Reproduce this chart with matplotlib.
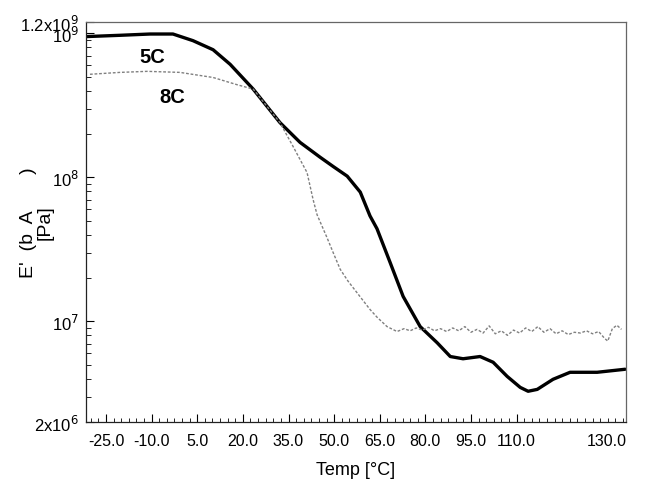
import matplotlib
matplotlib.use("Agg")
import matplotlib.pyplot as plt
from matplotlib.ticker import FixedLocator, MultipleLocator, LogLocator, NullFormatter

plt.rcParams['font.family'] = ['Liberation Sans', 'DejaVu Sans']

# ---- data ----
temp_5c = [-31.6, -20.4, -10.5, -3.0, 3.6, 10.2, 15.8, 23.4, 32.2, 38.8, 45.4, 49.7,
           54.3, 58.6, 61.8, 64.1, 68.4, 72.7, 78.3, 83.9, 88.2, 92.4, 98.0, 102.3,
           106.9, 111.2, 113.8, 116.8, 122.0, 127.6, 136.5, 145.7]
e_5c = [9.5e8, 9.7e8, 9.9e8, 9.9e8, 8.9e8, 7.7e8, 6.1e8, 4.1e8, 2.4e8, 1.75e8, 1.38e8, 1.19e8,
        1.02e8, 7.9e7, 5.4e7, 4.4e7, 2.57e7, 1.49e7, 9.2e6, 7.1e6, 5.7e6, 5.5e6, 5.7e6, 5.2e6,
        4.15e6, 3.48e6, 3.27e6, 3.37e6, 3.96e6, 4.43e6, 4.43e6, 4.65e6]

temp_8c = [-30.3, -20.4, -11.5, -0.7, 10.2, 18.1, 23.4, 32.2, 36.5, 41.1, 43.1, 44.4,
           47.7, 49.7, 52.0, 54.6, 61.8, 64.1, 67.4, 70.7,
           73, 75, 77, 79, 81, 83, 85, 87, 89, 91, 93, 95, 97, 99, 101, 103, 105, 107,
           109, 111, 113, 115, 117, 119, 121, 123, 125, 127, 129, 131, 133, 135, 137,
           139, 140, 141.5, 143, 144.5]
e_8c_mpa = [520, 536, 545, 536, 494, 440, 410, 240, 164, 108, 70, 55,
            38, 30, 23, 19, 12.1, 10.7, 9.2, 8.5,
            8.9, 8.6, 9.0, 8.7, 9.1, 8.6, 8.9, 8.5, 9.0, 8.6, 9.2, 8.4, 8.8, 8.3, 9.3, 8.2,
            8.6, 8.0, 8.7, 8.3, 9.0, 8.5, 9.2, 8.4, 8.9, 8.2, 8.6, 8.1, 8.4, 8.3, 8.6, 8.2,
            8.5, 7.6, 7.3, 8.9, 9.4, 8.8]
e_8c = [v * 1e6 for v in e_8c_mpa]

x_ticks = [-25, -10, 5, 20, 35, 50, 65, 80, 95, 110]
x_tick_labels = ["-25.0", "-10.0", "5.0", "20.0", "35.0", "50.0", "65.0", "80.0", "95.0", "110.0"]
x_end_label = "130.0"
y_ticks = [2e6, 1e7, 1e8, 1e9, 1.2e9]
y_tick_labels = [r"2x10$^{6}$", r"10$^{7}$", r"10$^{8}$", r"10$^{9}$", r"1.2x10$^{9}$"]
series_labels = ["5C", "8C"]

# ---- figure ----
fig = plt.figure(figsize=(6.49, 4.85), dpi=100)
ax = fig.add_axes([0.1325, 0.1278, 0.8321, 0.8248])

ax.plot(temp_5c, e_5c, color="black", lw=2.4, solid_capstyle="round")
ax.plot(temp_8c, e_8c, color="#808080", lw=1.0, linestyle=(0, (2.0, 1.3)))

ax.set_yscale("log")
ax.set_xlim(-31.6, 146.0)
ax.set_ylim(2e6, 1.2e9)

ax.xaxis.set_major_locator(FixedLocator(x_ticks))
ax.set_xticklabels(x_tick_labels)
ax.xaxis.set_minor_locator(MultipleLocator(2.5))
ax.yaxis.set_major_locator(FixedLocator(y_ticks))
ax.set_yticklabels(y_tick_labels)
ax.yaxis.set_minor_locator(LogLocator(base=10, subs=range(2, 10)))
ax.yaxis.set_minor_formatter(NullFormatter())

ax.tick_params(axis="x", which="major", direction="in", length=6, width=0.8, labelsize=11.5, pad=8)
ax.tick_params(axis="x", which="minor", direction="in", length=3, width=0.6)
ax.tick_params(axis="y", which="major", direction="in", length=6, width=0.8, labelsize=12, pad=5)
ax.tick_params(axis="y", which="minor", direction="in", length=3.5, width=0.6)

for side in ["left", "bottom"]:
    ax.spines[side].set_linewidth(0.9)
    ax.spines[side].set_color("#222222")
for side in ["top", "right"]:
    ax.spines[side].set_linewidth(0.9)
    ax.spines[side].set_color("#666666")

ax.annotate(x_end_label, xy=(0.965, 0), xycoords="axes fraction", xytext=(0, -8),
            textcoords="offset points", ha="center", va="top", fontsize=11.5)

ax.set_xlabel("Temp [°C]", fontsize=13, labelpad=9)
ax.set_ylabel("E'  (b  A       )\n[Pa]", fontsize=14, linespacing=1.0)
ax.yaxis.set_label_coords(-0.06, 0.5)

ax.text(-9.9, 6.9e8, series_labels[0], fontsize=14.5, fontweight="bold", ha="center", va="center")
ax.text(-3.3, 3.65e8, series_labels[1], fontsize=14.5, fontweight="bold", ha="center", va="center")

fig.savefig("out.png", dpi=100)
